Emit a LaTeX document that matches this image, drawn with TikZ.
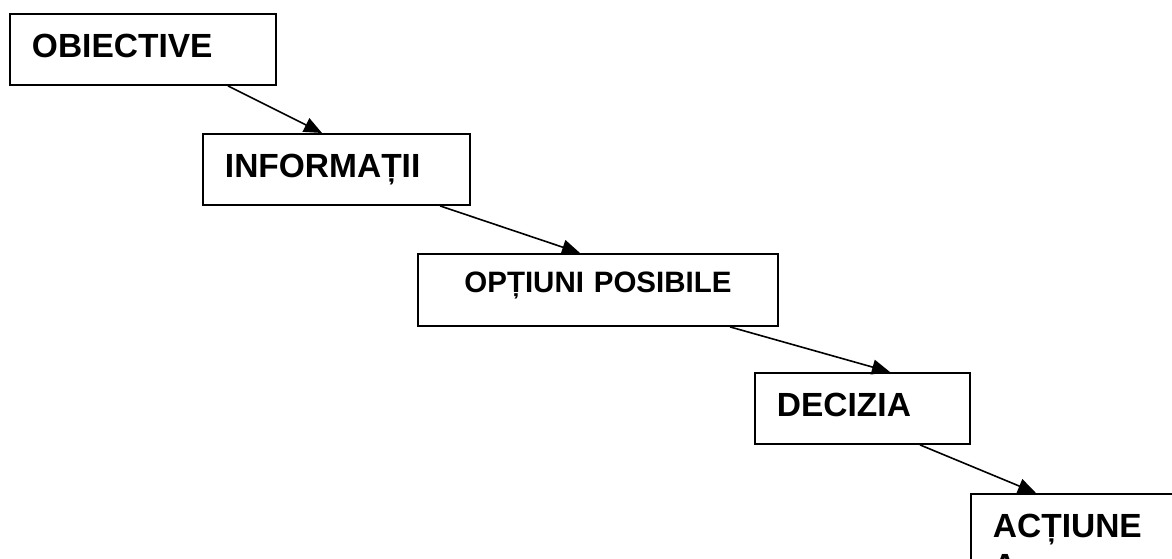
\documentclass[tikz,border=0pt]{standalone}
\usepackage{fontspec}
\setmainfont{Liberation Sans}
\usetikzlibrary{arrows.meta}
\begin{document}
\begin{tikzpicture}[x=1pt,y=-1pt,
    stage/.style={draw, line width=1.9pt, anchor=north west, align=left,
      font=\fontsize{33.5}{40}\selectfont\bfseries,
      inner xsep=22pt, inner ysep=20pt, text height=24pt, text depth=7pt},
    flow/.style={line width=1.6pt, -{Triangle[length=18pt,width=15pt]}}]
  \clip (0,0) rectangle (1172,559);
  \node[stage, text width=222pt] (obj) at (9,13) {OBIECTIVE};
  \node[stage, text width=223pt] (inf) at (202,133) {INFORMAȚII};
  \node[stage, text width=316pt, align=center,
    font=\fontsize{29.5}{35}\selectfont\bfseries,
    text height=19pt, text depth=13pt] (opt) at (417,253) {OPȚIUNI POSIBILE};
  \node[stage, text width=171pt] (dec) at (754,372) {DECIZIA};
  \node[stage, text width=206pt, text depth=70pt] (act) at (970,493) {ACȚIUNE\\A};
  \begin{scope}[flow]
    \draw ([xshift=219pt]obj.south west) to ([xshift=120pt]inf.north west);
    \draw ([xshift=238pt]inf.south west) to ([xshift=163pt]opt.north west);
    \draw ([xshift=313pt]opt.south west) to ([xshift=136pt]dec.north west);
    \draw ([xshift=166pt]dec.south west) to ([xshift=66pt]act.north west);
  \end{scope}
\end{tikzpicture}
\end{document}
